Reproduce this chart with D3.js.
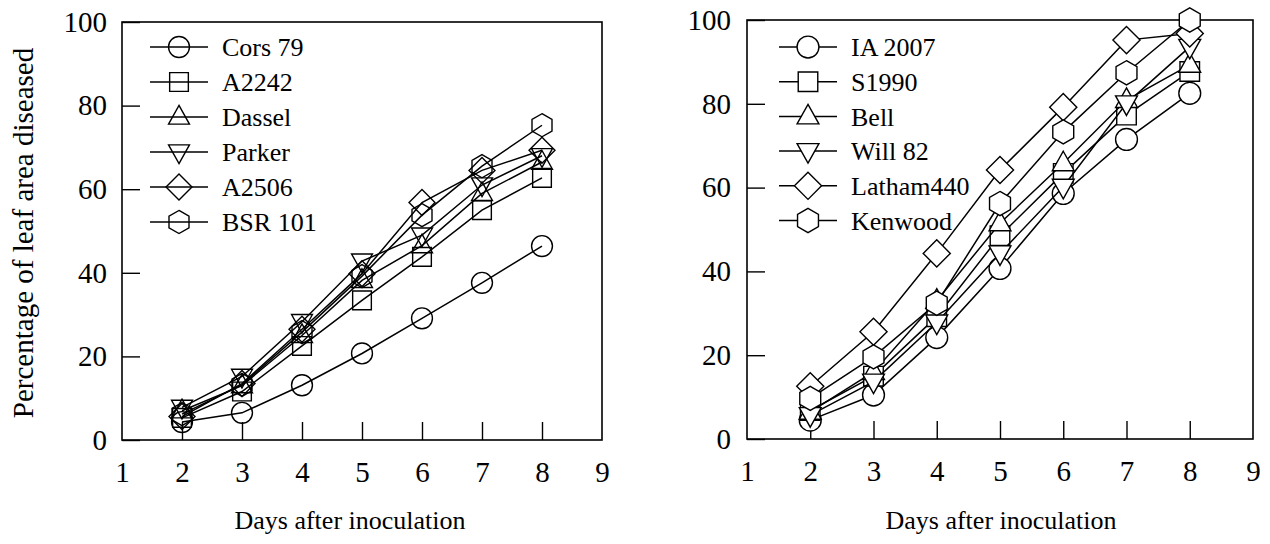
<!DOCTYPE html>
<html><head><meta charset="utf-8">
<script src="https://cdn.jsdelivr.net/npm/d3@7"></script>
<style>
html,body{margin:0;padding:0;background:#fff;}
svg, svg text{font-family:"Liberation Serif","Times New Roman",serif !important;}
</style></head>
<body><svg id="chart" width="1270" height="544"></svg>
<script>
// ---- data ----
const days = [2, 3, 4, 5, 6, 7, 8];
const xTicks = [1, 2, 3, 4, 5, 6, 7, 8, 9];
const yTicks = [0, 20, 40, 60, 80, 100];

const leftNames = ["Cors 79", "A2242", "Dassel", "Parker", "A2506", "BSR 101"];
const cors79 = [4.3, 6.5, 13.1, 20.7, 29.1, 37.6, 46.4];
const a2242  = [5.3, 11.6, 22.5, 33.4, 43.8, 55.0, 62.7];
const dassel = [7.0, 13.0, 25.0, 38.2, 46.5, 59.0, 66.5];
const parker = [7.8, 15.2, 28.3, 42.8, 49.0, 61.0, 68.0];
const a2506  = [5.6, 13.5, 26.5, 39.8, 56.8, 64.5, 69.3];
const bsr101 = [6.2, 13.2, 25.8, 39.2, 53.8, 65.5, 75.3];

const rightNames = ["IA 2007", "S1990", "Bell", "Will 82", "Latham440", "Kenwood"];
const ia2007    = [4.5, 10.5, 24.2, 40.7, 58.6, 71.5, 82.5];
const s1990     = [6.8, 15.0, 29.2, 48.5, 63.4, 77.3, 87.7];
const bell      = [6.5, 16.0, 33.0, 51.5, 65.8, 80.9, 89.3];
const will82    = [5.7, 13.7, 27.8, 44.3, 60.2, 80.1, 93.6];
const latham440 = [12.6, 25.6, 44.3, 64.2, 79.2, 95.2, 96.8];
const kenwood   = [9.7, 19.6, 32.4, 56.2, 73.3, 87.4, 100];

const shapes = ["circle", "square", "triUp", "triDown", "diamond", "hexagon"];
const xTitle = "Days after inoculation";
const yTitle = "Percentage of leaf area diseased";

// ---- drawing ----
const svg = d3.select("#chart");
const FONT = "Liberation Serif, Times New Roman, serif";

function shapePath(type, s) {
  const p = d3.path();
  if (type === "circle") { p.arc(0, 0, s * 0.95, 0, 2 * Math.PI); p.closePath(); }
  else if (type === "square") { const h = s * 0.85; p.rect(-h, -h, 2 * h, 2 * h); }
  else if (type === "triUp") { const w = s * 0.95; p.moveTo(0, -s * 1.05); p.lineTo(w, s * 0.65); p.lineTo(-w, s * 0.65); p.closePath(); }
  else if (type === "triDown") { const w = s * 0.95; p.moveTo(0, s * 1.05); p.lineTo(w, -s * 0.65); p.lineTo(-w, -s * 0.65); p.closePath(); }
  else if (type === "diamond") { const d = s * 1.18; p.moveTo(0, -d); p.lineTo(d, 0); p.lineTo(0, d); p.lineTo(-d, 0); p.closePath(); }
  else if (type === "hexagon") {
    const r = s * 1.05;
    for (let i = 0; i < 6; i++) {
      const a = -Math.PI / 2 + i * Math.PI / 3;
      const px = r * Math.cos(a), py = r * Math.sin(a);
      if (i === 0) p.moveTo(px, py); else p.lineTo(px, py);
    }
    p.closePath();
  }
  return p.toString();
}

function panel(cfg) {
  const x = d3.scaleLinear().domain([1, 9]).range([cfg.x0, cfg.x1]);
  const y = d3.scaleLinear().domain([0, 100]).range([cfg.y0, cfg.y1]);
  const g = svg.append("g");

  // axes (inward ticks)
  const xa = g.append("g").attr("transform", `translate(0,${cfg.y0})`)
    .call(d3.axisBottom(x).tickValues(xTicks).tickSizeInner(-18).tickSizeOuter(0).tickPadding(21).tickFormat(d3.format("d")));
  const ya = g.append("g").attr("transform", `translate(${cfg.x0},0)`)
    .call(d3.axisLeft(y).tickValues(yTicks).tickSizeInner(-18).tickSizeOuter(0).tickPadding(cfg.ypad).tickFormat(d3.format("d")));
  [xa, ya].forEach(a => {
    a.attr("font-family", FONT).attr("font-size", 29);
    a.select(".domain").remove();
    a.selectAll(".tick line").attr("stroke", "#000").attr("stroke-width", 1.4);
    a.selectAll(".tick text").attr("fill", "#000");
  });
  xa.selectAll(".tick").filter(d => d === 1 || d === 9).select("line").remove();

  // frame
  g.append("rect").attr("x", cfg.x0).attr("y", cfg.y1)
    .attr("width", cfg.x1 - cfg.x0).attr("height", cfg.y0 - cfg.y1)
    .attr("fill", "none").attr("stroke", "#000").attr("stroke-width", 1.6);

  const line = d3.line().x((d, i) => x(days[i])).y(d => y(d));
  cfg.series.forEach((vals, k) => {
    const sg = g.append("g");
    sg.append("path").attr("d", line(vals)).attr("fill", "none").attr("stroke", "#000").attr("stroke-width", 1.5);
    sg.selectAll("path.m").data(vals).enter().append("path").attr("class", "m")
      .attr("transform", (d, i) => `translate(${x(days[i])},${y(d)})`)
      .attr("d", shapePath(shapes[k], cfg.ms))
      .attr("fill", cfg.fill).attr("stroke", "#000").attr("stroke-width", 1.4);
  });

  // legend
  const lg = g.append("g").attr("font-family", FONT).attr("font-size", 26);
  cfg.names.forEach((n, k) => {
    const yy = cfg.legY + k * cfg.legStep;
    lg.append("line").attr("x1", cfg.legX).attr("x2", cfg.legX + 58).attr("y1", yy).attr("y2", yy)
      .attr("stroke", "#000").attr("stroke-width", 1.5);
    lg.append("path").attr("transform", `translate(${cfg.legX + 29},${yy})`)
      .attr("d", shapePath(shapes[k], cfg.ms)).attr("fill", cfg.fill).attr("stroke", "#000").attr("stroke-width", 1.4);
    lg.append("text").attr("x", cfg.legX + 72).attr("y", yy).attr("dy", "0.35em")
      .attr("fill", "#000").text(n);
  });

  // x title
  g.append("text").attr("x", cfg.titleX).attr("y", 529).attr("text-anchor", "middle")
    .attr("font-family", FONT).attr("font-size", 26).attr("fill", "#000").text(xTitle);
}

panel({ x0: 122, x1: 602, y0: 440, y1: 22, ypad: 15, fill: "none", ms: 11,
  series: [cors79, a2242, dassel, parker, a2506, bsr101], names: leftNames,
  legX: 150, legY: 47, legStep: 35, titleX: 350 });
panel({ x0: 747, x1: 1253, y0: 439, y1: 20, ypad: 16, fill: "#fff", ms: 11.5,
  series: [ia2007, s1990, bell, will82, latham440, kenwood], names: rightNames,
  legX: 779, legY: 47, legStep: 34.7, titleX: 1001 });

svg.append("text").attr("transform", "translate(33,233) rotate(-90)").attr("text-anchor", "middle")
  .attr("font-family", FONT).attr("font-size", 29).attr("fill", "#000").text(yTitle);
</script>
</body></html>
